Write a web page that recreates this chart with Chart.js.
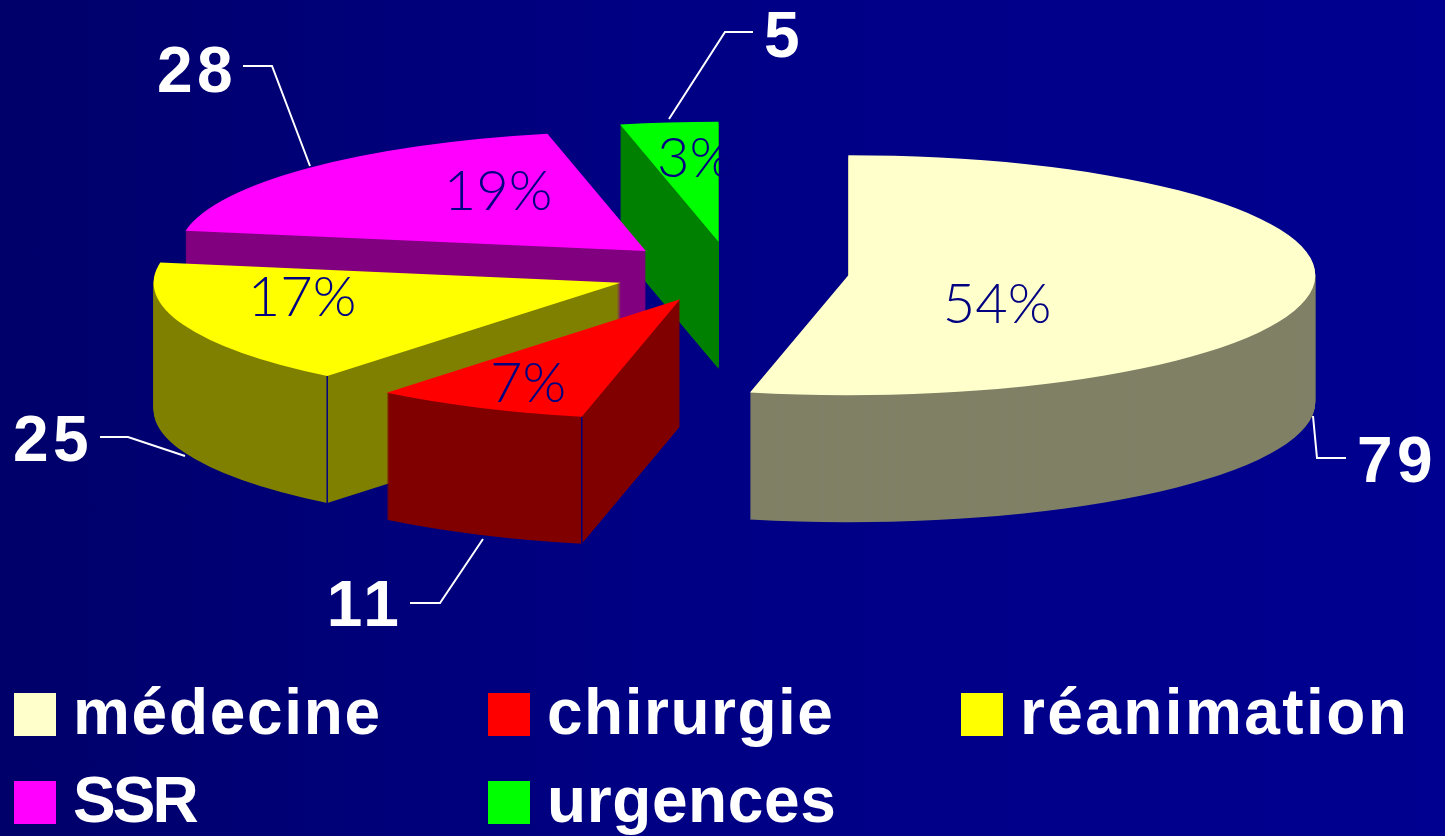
<!DOCTYPE html>
<html lang="fr">
<head>
    <meta charset="UTF-8">
    <title>Répartition par service</title>
    <script src="https://cdn.jsdelivr.net/npm/chart.js"></script>
    <style>
        html, body {
            margin: 0;
            width: 1445px;
            height: 836px;
            overflow: hidden;
            background: linear-gradient(90deg, #00006a 0%, #000084 45%, #000090 100%);
        }
        canvas { position: absolute; left: 0; top: 0; }
        .legend-item {
            position: absolute;
            height: 44px;
            color: #fff;
            font: bold 64px "Liberation Sans", Arial, sans-serif;
            line-height: 38px;
            white-space: nowrap;
        }
        .legend-item i {
            position: absolute;
            left: -59px;
            top: 0;
            width: 42px;
            height: 43px;
        }
    </style>
</head>
<body>
    <canvas id="pie" width="1445" height="836"></canvas>
    <div id="legend"></div>

    <script>
        const categories = ['médecine', 'chirurgie', 'réanimation', 'SSR', 'urgences'];
        const values = [79, 11, 25, 28, 5];
        const percentLabels = ['54%', '7%', '17%', '19%', '3%'];
        const topColors = ['#ffffcc', '#ff0000', '#ffff00', '#ff00ff', '#00ff00'];
        const wallColors = ['#808066', '#800000', '#808000', '#800080', '#008000'];

        // 3D look of the old PowerPoint pie
        const RADIUS = 467;
        const TILT = 0.257;
        const DEPTH = 127;
        const EXPLODE = 118;

        // label placement, same order as categories
        const percentPos = [[997, 305], [528, 384], [302, 298], [498, 192], [695, 159]];
        const valuePos = [[1397, 482], [365, 626], [53, 461], [197, 92], [784, 57]];
        const leaders = [
            [[1313, 416], [1317, 458], [1346, 458]],
            [[483, 539], [440, 603], [410, 603]],
            [[185, 456], [128, 437], [100, 437]],
            [[310, 166], [272, 66], [243, 66]],
            [[669, 119], [725, 32], [753, 32]]
        ];
        const legendPos = [[73, 693], [547, 693], [1020, 693], [73, 781], [547, 781]];
        const legendSpacing = [1.7, 1.5, 2.4, -3, 0.6];
        const cornerLines = ['chirurgie', 'réanimation'];

        function midAngle(arc) {
            return (arc.startAngle + arc.endAngle) / 2;
        }

        // squash the circle into an ellipse, move the slice out and down by dy
        function placeSlice(ctx, arc, dy) {
            const a = midAngle(arc);
            ctx.translate(arc.x, arc.y + dy);
            ctx.scale(1, TILT);
            ctx.translate(-arc.x, -arc.y);
            ctx.translate(Math.cos(a) * EXPLODE, Math.sin(a) * EXPLODE);
        }

        const pie3d = {
            id: 'pie3d',
            beforeDatasetsDraw(chart) {
                const ctx = chart.ctx;
                const arcs = chart.getDatasetMeta(0).data;
                // back slices first
                const order = arcs.map((arc, i) => i)
                    .sort((a, b) => Math.sin(midAngle(arcs[a])) - Math.sin(midAngle(arcs[b])));

                order.forEach(i => {
                    const arc = arcs[i];
                    const opts = arc.options;
                    arc.options = { ...opts, backgroundColor: wallColors[i] };
                    for (let dy = DEPTH; dy > 0; dy--) {
                        ctx.save();
                        placeSlice(ctx, arc, dy);
                        arc.draw(ctx);
                        ctx.restore();
                    }
                    arc.options = opts;

                    if (cornerLines.includes(categories[i])) {
                        const a = midAngle(arc);
                        const x = arc.x + Math.cos(a) * EXPLODE + Math.cos(arc.startAngle) * RADIUS;
                        const y = arc.y + (Math.sin(a) * EXPLODE + Math.sin(arc.startAngle) * RADIUS) * TILT;
                        ctx.strokeStyle = '#000080';
                        ctx.lineWidth = 1.5;
                        ctx.beginPath();
                        ctx.moveTo(x, y);
                        ctx.lineTo(x, y + DEPTH);
                        ctx.stroke();
                    }

                    ctx.save();
                    placeSlice(ctx, arc, 0);
                    arc.draw(ctx);
                    ctx.restore();
                });
                return false;
            },
            // afterDatasetsDraw is skipped once the hook above returns false
            afterDraw(chart) {
                const ctx = chart.ctx;
                ctx.save();

                ctx.strokeStyle = '#fff';
                ctx.lineWidth = 2;
                leaders.forEach(pts => {
                    ctx.beginPath();
                    pts.forEach(([x, y], k) => k ? ctx.lineTo(x, y) : ctx.moveTo(x, y));
                    ctx.stroke();
                });

                ctx.fillStyle = '#000080';
                ctx.font = '300 56px Lato, sans-serif';
                ctx.textAlign = 'center';
                ctx.textBaseline = 'middle';
                percentLabels.forEach((label, i) => {
                    ctx.fillText(label, percentPos[i][0], percentPos[i][1]);
                });

                ctx.fillStyle = '#fff';
                ctx.font = 'bold 64px "Liberation Sans", Arial, sans-serif';
                ctx.letterSpacing = '4.5px';
                ctx.textBaseline = 'alphabetic';
                values.forEach((v, i) => {
                    ctx.fillText(String(v), valuePos[i][0], valuePos[i][1]);
                });
                ctx.restore();
            }
        };

        new Chart(document.getElementById('pie'), {
            type: 'pie',
            data: {
                labels: categories,
                datasets: [{
                    data: values,
                    backgroundColor: topColors,
                    borderWidth: 0
                }]
            },
            options: {
                responsive: false,
                animation: false,
                radius: RADIUS,
                layout: { padding: { left: 17, bottom: 292 } },
                plugins: {
                    legend: { display: false },
                    tooltip: { enabled: false }
                }
            },
            plugins: [pie3d]
        });

        const legendEl = document.getElementById('legend');
        categories.forEach((name, i) => {
            const item = document.createElement('div');
            item.className = 'legend-item';
            item.style.left = legendPos[i][0] + 'px';
            item.style.top = legendPos[i][1] + 'px';
            item.style.letterSpacing = legendSpacing[i] + 'px';
            item.innerHTML = `<i style="background:${topColors[i]}"></i>${name}`;
            legendEl.appendChild(item);
        });
    </script>
</body>
</html>
